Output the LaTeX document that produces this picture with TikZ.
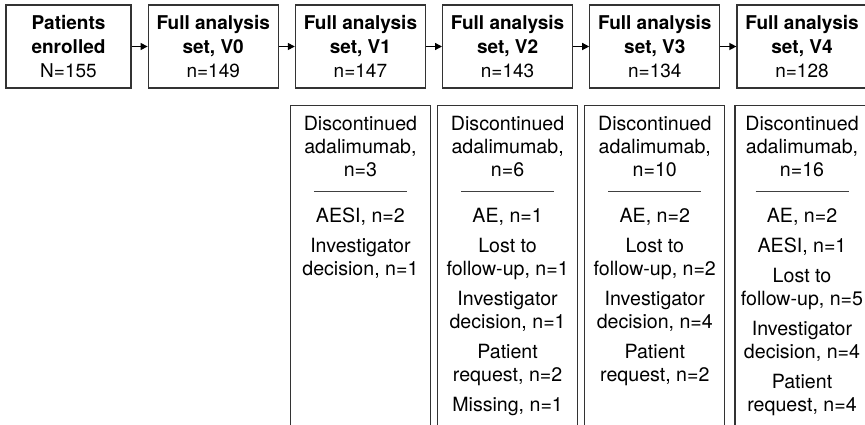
\documentclass[tikz,border=0pt]{standalone}
\usepackage{fontspec}
\setmainfont{TeX Gyre Heros}
\usetikzlibrary{positioning,arrows.meta}
\newcommand{\droprule}{\\[-7pt]\textcolor{black!75}{\rule{93pt}{1.4pt}}\\[7pt]}
\newcommand{\dropbox}[2]{\parbox[t][340pt][t]{#1}{\centering\rule{0pt}{25pt}#2}}
\begin{document}
\begin{tikzpicture}[x=1pt, y=-1pt, node distance={16pt and 16pt},
	main/.style = {draw=black!80, line width=1.2pt, minimum width=130pt, minimum height=83pt, inner sep=0pt, align=center, font=\fontsize{19}{24}\selectfont},
	drop/.style = {draw=black!80, line width=1.2pt, inner sep=0pt, font=\fontsize{19.6}{23}\selectfont},
	flow/.style = {-{Triangle[length=7pt,width=7pt]}, line width=1.3pt}]
	\useasboundingbox (0,0) rectangle (865,425);
	\clip (0,0) rectangle (865,425);
	
	\node[main, minimum width=125pt] (pe) at (68.5,46.5) {\textbf{Patients}\\\textbf{enrolled}\\N=155};
	\node[main, right=of pe] (v0) {\textbf{Full analysis}\\\textbf{set, V0}\\n=149};
	\node[main, right=of v0] (v1) {\textbf{Full analysis}\\\textbf{set, V1}\\n=147};
	\node[main, right=of v1] (v2) {\textbf{Full analysis}\\\textbf{set, V2}\\n=143};
	\node[main, right=of v2] (v3) {\textbf{Full analysis}\\\textbf{set, V3}\\n=134};
	\node[main, right=of v3] (v4) {\textbf{Full analysis}\\\textbf{set, V4}\\n=128};
	
	\draw[flow] (pe) -- (v0);
	\draw[flow] (v0) -- (v1);
	\draw[flow] (v1) -- (v2);
	\draw[flow] (v2) -- (v3);
	\draw[flow] (v3) -- (v4);
	
	% discontinuations per visit
	\node[drop, below=of v1] (d1) {\dropbox{140pt}{Discontinued\\adalimumab,\\n=3\droprule
		AESI, n=2\\[7pt]Investigator\\decision, n=1}};
	\node[drop, below=of v2] (d2) {\dropbox{140pt}{Discontinued\\adalimumab,\\n=6\droprule
		AE, n=1\\[7pt]Lost to\\follow-up, n=1\\[7pt]Investigator\\decision, n=1\\[7pt]Patient\\request, n=2\\[7pt]Missing, n=1}};
	\node[drop, below=of v3] (d3) {\dropbox{140pt}{Discontinued\\adalimumab,\\n=10\droprule
		AE, n=2\\[7pt]Lost to\\follow-up, n=2\\[7pt]Investigator\\decision, n=4\\[7pt]Patient\\request, n=2}};
	\node[drop, below=of v4] (d4) {\dropbox{134pt}{Discontinued\\adalimumab,\\n=16\droprule
		AE, n=2\\[7pt]AESI, n=1\\[7pt]Lost to\\follow-up, n=5\\[7pt]Investigator\\decision, n=4\\[7pt]Patient\\request, n=4}};
	
\end{tikzpicture}
\end{document}
